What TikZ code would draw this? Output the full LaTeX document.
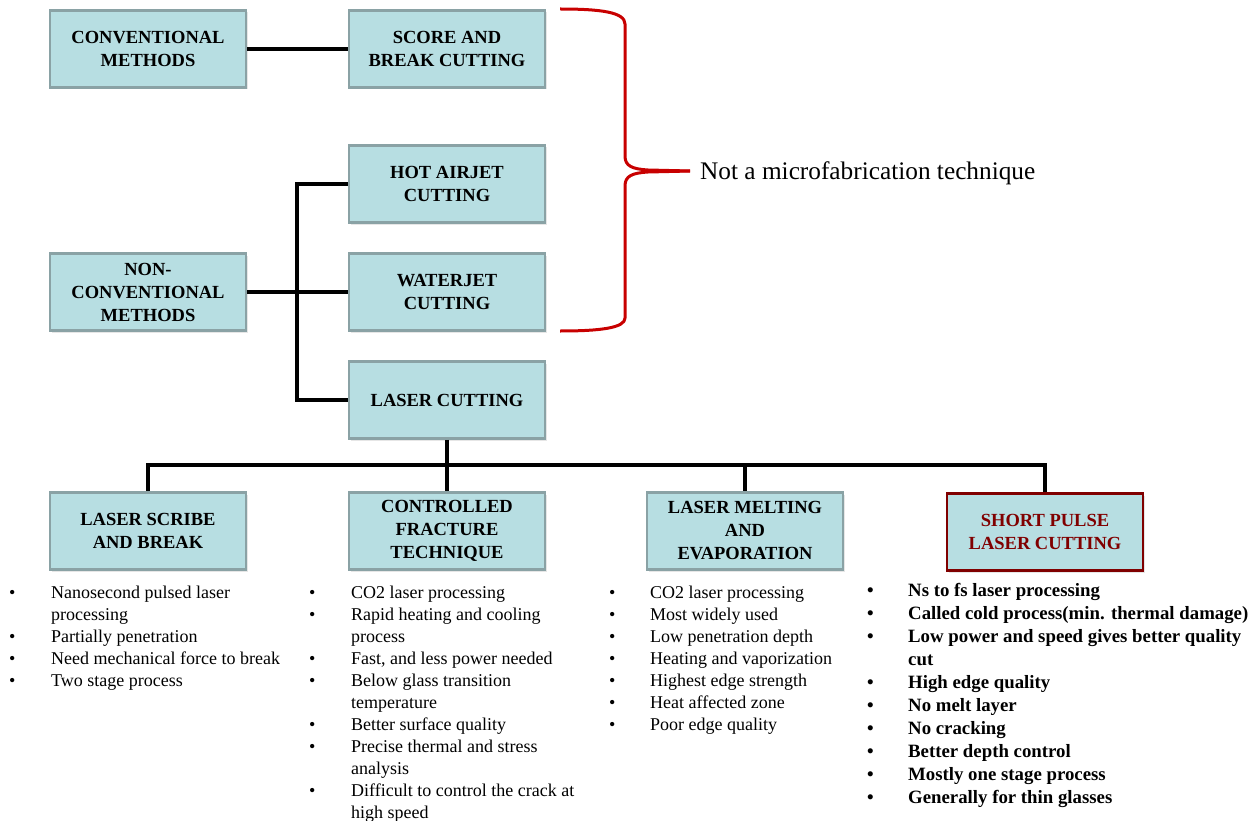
\documentclass[tikz,border=0pt]{standalone}
\usepackage{fontspec}
\setmainfont{Liberation Serif}
\usetikzlibrary{shadows}
\definecolor{boxfill}{RGB}{183,222,226}
\definecolor{boxline}{RGB}{138,162,165}
\definecolor{darkred}{RGB}{128,0,0}
\definecolor{bracered}{RGB}{200,0,0}
\newcommand{\boxfont}{\fontsize{18.5}{23}\selectfont\bfseries}
\newcommand{\listfont}{\fontsize{18}{22}\selectfont}
\newcommand{\boldlistfont}{\fontsize{18.8}{23}\selectfont\bfseries}
\begin{document}
\begin{tikzpicture}[x=1pt,y=-1pt,
  cbox/.style={draw=boxline, line width=2.5pt, fill=boxfill, minimum width=196pt, minimum height=77pt,
    align=center, font=\boxfont, inner sep=2pt,
    drop shadow={opacity=0.2, shadow xshift=2pt, shadow yshift=-2pt}},
  hbox/.style={cbox, draw=darkred, text=darkred},
  conn/.style={line width=3.5pt, black},
  brace/.style={line width=3pt, bracered, line join=round},
  blist/.style={anchor=north west, inner sep=0pt, align=left}
]
\useasboundingbox (0,0) rectangle (1260,821);

% boxes
\node[cbox] (conv) at (148,49) {CONVENTIONAL\\METHODS};
\node[cbox] (score) at (447,49) {SCORE AND\\BREAK CUTTING};
\node[cbox] (hot) at (447,184) {HOT AIRJET\\CUTTING};
\node[cbox] (water) at (447,292) {WATERJET\\CUTTING};
\node[cbox] (nonconv) at (148,292) {NON-\\CONVENTIONAL\\METHODS};
\node[cbox] (laser) at (447,400) {LASER CUTTING};
\node[cbox] (scribe) at (148,531) {LASER SCRIBE\\AND BREAK};
\node[cbox] (cft) at (447,531) {CONTROLLED\\FRACTURE\\TECHNIQUE};
\node[cbox] (melt) at (745,531) {LASER MELTING\\AND\\EVAPORATION};
\node[hbox] (short) at (1045,532) {SHORT PULSE\\LASER CUTTING};

% connectors
\draw[conn] (conv.east) -- (score.west);
\coordinate (j1) at (297,292);
\draw[conn] (nonconv.east) -- (j1);
\draw[conn] (j1) |- (hot.west);
\draw[conn] (j1) -- (water.west);
\draw[conn] (j1) |- (laser.west);
\coordinate (j2) at (447,465);
\draw[conn] (laser.south) -- (j2);
\draw[conn] (j2) -| (scribe.north);
\draw[conn] (j2) -- (cft.north);
\draw[conn] (j2) -| (melt.north);
\draw[conn] (j2) -| (short.north);

% brace
\draw[brace] (560,9) .. controls (600,9) and (625,12) .. (625,24)
  -- (625,156) .. controls (625,166) and (632,169) .. (648,170) -- (690,171);
\draw[brace] (690,171) -- (648,172) .. controls (632,173) and (625,176) .. (625,186)
  -- (625,318) .. controls (625,328) and (600,331) .. (560,331);
\node[anchor=west, inner sep=0pt, font=\fontsize{25.3}{30}\selectfont] (note) at (700,173) {Not a microfabrication technique};

% lists
\node[blist] (l1) at (9,583) {\listfont\begin{tabular}{@{}p{42pt}@{}l@{}}
\textbullet & Nanosecond pulsed laser\\
 & processing\\
\textbullet & Partially penetration\\
\textbullet & Need mechanical force to break\\
\textbullet & Two stage process
\end{tabular}};
\node[blist] (l2) at (309,583) {\listfont\begin{tabular}{@{}p{42pt}@{}l@{}}
\textbullet & CO2 laser processing\\
\textbullet & Rapid heating and cooling\\
 & process\\
\textbullet & Fast, and less power needed\\
\textbullet & Below glass transition\\
 & temperature\\
\textbullet & Better surface quality\\
\textbullet & Precise thermal and stress\\
 & analysis\\
\textbullet & Difficult to control the crack at\\
 & high speed
\end{tabular}};
\node[blist] (l3) at (609,583) {\listfont\begin{tabular}{@{}p{41pt}@{}l@{}}
\textbullet & CO2 laser processing\\
\textbullet & Most widely used\\
\textbullet & Low penetration depth\\
\textbullet & Heating and vaporization\\
\textbullet & Highest edge strength\\
\textbullet & Heat affected zone\\
\textbullet & Poor edge quality
\end{tabular}};
\node[blist] (l4) at (867,580) {\boldlistfont\begin{tabular}{@{}p{41pt}@{}l@{}}
\textbullet & Ns to fs laser processing\\
\textbullet & Called cold process(min. thermal damage)\\
\textbullet & Low power and speed gives better quality\\
 & cut\\
\textbullet & High edge quality\\
\textbullet & No melt layer\\
\textbullet & No cracking\\
\textbullet & Better depth control\\
\textbullet & Mostly one stage process\\
\textbullet & Generally for thin glasses
\end{tabular}};
\end{tikzpicture}
\end{document}
